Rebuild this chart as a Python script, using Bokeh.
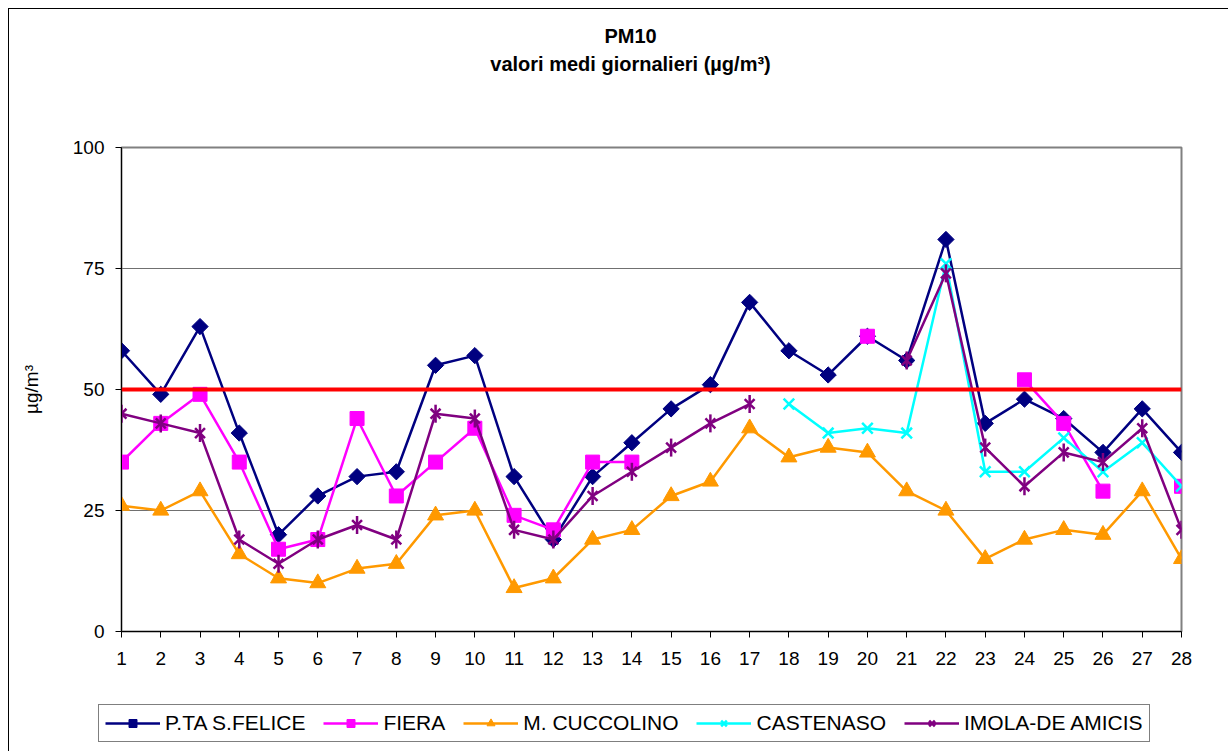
import numpy as np
from bokeh.plotting import figure
from bokeh.layouts import column
from bokeh.models import Range1d, Span, Legend, LegendItem, Label
from bokeh.embed import file_html
from bokeh.resources import INLINE

# ---- data ----
days = list(range(1, 29))
felice = [58, 49, 63, 41, 20, 28, 32, 33, 55, 57, 32, 19, 32, 39, 46, 51, 68, 58, 53, 61, 56, 81, 43, 48, 44, 37, 46, 37]
fiera = [35, 43, 49, 35, 17, 19, 44, 28, 35, 42, 24, 21, 35, 35, None, None, None, None, None, 61, None, None, None, 52, 43, 29, None, 30]
cuccolino = [26, 25, 29, 16, 11, 10, 13, 14, 24, 25, 9, 11, 19, 21, 28, 31, 42, 36, 38, 37, 29, 25, 15, 19, 21, 20, 29, 15]
castenaso = [None] * 17 + [47, 41, 42, 41, 76, 33, 33, 40, 33, 39, 30]
imola = [45, 43, 41, 19, 14, 19, 22, 19, 45, 44, 21, 19, 28, 33, 38, 43, 47, None, None, None, 56, 74, 38, 30, 37, 35, 42, 21]
limit_value = 50
y_ticks = [0, 25, 50, 75, 100]
series_names = ["P.TA S.FELICE", "FIERA", "M. CUCCOLINO", "CASTENASO", "IMOLA-DE AMICIS"]
title_1 = "PM10"
title_2 = "valori medi giornalieri (µg/m³)"
y_label = "µg/m³"


def arr(v):
    return np.array([np.nan if a is None else a for a in v], dtype=float)


FONT = "Liberation Sans"
W = 1219


def bare_figure(h, y_range):
    f = figure(width=W, height=h, output_backend="svg", toolbar_location=None,
               x_range=Range1d(0, 1), y_range=y_range,
               x_axis_type=None, y_axis_type=None,
               min_border_left=0, min_border_right=0, min_border_top=0, min_border_bottom=0,
               background_fill_color="white", border_fill_color="white",
               frame_align=False)
    f.outline_line_color = None
    f.grid.visible = False
    return f


# ---- title strip ----
pt = bare_figure(86, Range1d(0, 1))
for txt, yy in ((title_1, 60), (title_2, 32)):
    pt.add_layout(Label(x=621, y=yy, x_units="screen", y_units="screen", text=txt,
                        text_font=FONT, text_font_size="20px", text_font_style="bold",
                        text_align="center", text_baseline="middle", text_color="black"))

# ---- main chart ----
p = figure(width=W, height=605, output_backend="svg", toolbar_location=None,
           x_range=Range1d(1, 28), y_range=Range1d(0, 100),
           min_border_left=112, min_border_right=47, min_border_top=52, min_border_bottom=69,
           background_fill_color="white", border_fill_color="white", frame_align=False)

p.outline_line_color = "#808080"
p.outline_line_width = 2

p.xgrid.grid_line_color = None
p.ygrid.grid_line_color = "#707070"
p.ygrid.grid_line_width = 1
p.ygrid.ticker = y_ticks

p.xaxis.ticker = days
p.yaxis.ticker = y_ticks
for ax in (p.xaxis, p.yaxis):
    ax.axis_line_color = "black"
    ax.axis_line_width = 1
    ax.major_tick_line_color = "black"
    ax.major_tick_in = 0
    ax.major_tick_out = 6
    ax.minor_tick_line_color = None
    ax.major_label_text_font = FONT
    ax.major_label_text_font_size = "19px"
    ax.major_label_text_color = "black"
p.xaxis.major_label_standoff = 14
p.yaxis.major_label_standoff = 11
p.yaxis.axis_label = y_label
p.yaxis.axis_label_text_font = FONT
p.yaxis.axis_label_text_font_size = "19px"
p.yaxis.axis_label_text_font_style = "normal"
p.yaxis.axis_label_text_color = "black"
p.yaxis.axis_label_standoff = 28

p.add_layout(Span(location=limit_value, dimension="width", line_color="#ff0000", line_width=4))

x = np.array(days, dtype=float)
LW = 2.5
COLORS = {"felice": "#000080", "fiera": "#ff00ff", "cucc": "#ff9900",
          "cast": "#00ffff", "imola": "#800080"}


def draw(fig, ys, key):
    c = COLORS[key]
    yv = arr(ys)
    rs = [fig.line(x, yv, line_color=c, line_width=LW)]
    if key == "felice":
        rs.append(fig.scatter(x, yv, marker="square", angle=np.pi / 4, size=11.5,
                              fill_color=c, line_color=c))
    elif key == "fiera":
        rs.append(fig.scatter(x, yv, marker="square", size=14, fill_color=c, line_color=c))
    elif key == "cucc":
        rs.append(fig.scatter(x, yv, marker="triangle", size=16, fill_color=c, line_color=c))
    elif key == "cast":
        rs.append(fig.scatter(x, yv, marker="x", size=15, line_color=c, line_width=2.5))
    else:
        rs.append(fig.scatter(x, yv, marker="x", size=14, line_color=c, line_width=2.5))
        rs.append(fig.scatter(x, yv, marker="dash", angle=np.pi / 2, size=18,
                              line_color=c, line_width=2.5))
    return rs


keys = ["felice", "fiera", "cucc", "cast", "imola"]
all_series = [felice, fiera, cuccolino, castenaso, imola]
for k, ys in zip(keys, all_series):
    draw(p, ys, k)

# ---- legend strip (series re-drawn out of view so that the legend has glyph sources) ----
pl = bare_figure(51, Range1d(1000, 1001))
items = []
for n, k, ys in zip(series_names, keys, all_series):
    rs = draw(pl, ys, k)
    first_valid = int(np.where(~np.isnan(arr(ys)))[0][0])
    items.append(LegendItem(label=n, renderers=rs, index=first_valid))
legend = Legend(items=items, orientation="horizontal", location=(89, 9),
                label_text_font=FONT, label_text_font_size="21px", label_text_color="black",
                glyph_width=55, glyph_height=20, label_standoff=5, spacing=18,
                padding=6, margin=0, border_line_color="black", border_line_width=1,
                background_fill_color="white", background_fill_alpha=1)
pl.add_layout(legend)

layout = column(pt, p, pl, spacing=0)
layout.styles = {"margin-left": "8px", "margin-top": "8px",
                 "border-left": "1px solid #000", "border-top": "1px solid #000"}

open("out.html", "w").write(file_html(layout, INLINE))
